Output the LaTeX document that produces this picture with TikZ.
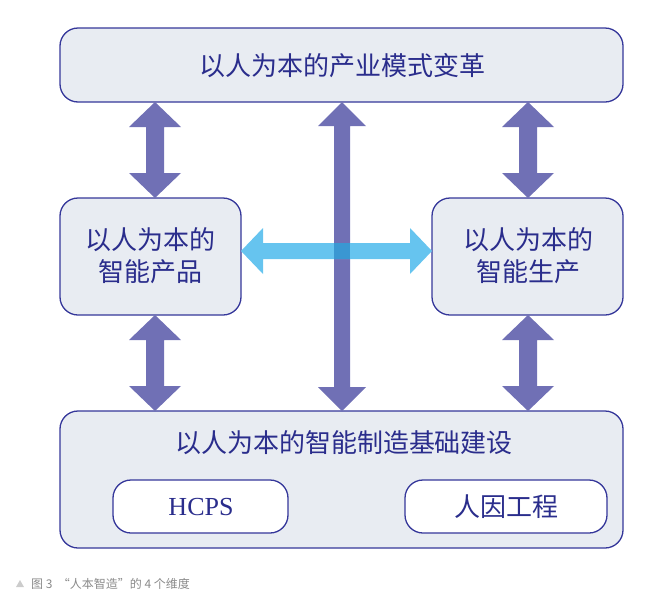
\documentclass[tikz,border=0pt]{standalone}
\usepackage{fontspec}
\setmainfont{Liberation Serif}
\newfontfamily\cjk{Noto Sans CJK SC}
\usetikzlibrary{calc}
\definecolor{edge}{HTML}{35379A}
\definecolor{boxfill}{HTML}{E8ECF2}
\definecolor{txt}{HTML}{2A2D8C}
\definecolor{purp}{HTML}{7070B5}
\definecolor{sky}{HTML}{66C4EF}
\definecolor{skydark}{HTML}{3A97D2}
\definecolor{capgray}{HTML}{8A8A8A}
\tikzset{
  panel/.style={draw=edge, line width=1.3pt, fill=boxfill, rounded corners=18pt},
  inner/.style={draw=edge, line width=1.3pt, fill=white, rounded corners=18pt},
  label/.style={text=txt, font=\cjk\fontsize{26}{31}\selectfont, align=center, inner sep=0pt},
}
\begin{document}
\begin{tikzpicture}[x=1pt,y=-1pt]
\useasboundingbox (0,0) rectangle (654,595);
% boxes
\draw[panel] (60,28) rectangle (623,102);
\draw[panel] (60,198) rectangle (241,315);
\draw[panel] (432,198) rectangle (623,315);
\draw[panel] (60,411) rectangle (623,548);
\draw[inner] (113,480) rectangle (288,533);
\draw[inner] (405,480) rectangle (607,533);
% coordinates
\coordinate (LT) at (155,102); \coordinate (LB) at (155,198);
\coordinate (RT) at (528,102); \coordinate (RB) at (528,198);
\coordinate (LT2) at (155,315); \coordinate (LB2) at (155,411);
\coordinate (RT2) at (528,315); \coordinate (RB2) at (528,411);
% double vertical arrows
\foreach \a/\b in {LT/LB,RT/RB,LT2/LB2,RT2/RB2}{
  \fill[purp] (\a) -- ($(\a)+(26,25)$) -- ($(\a)+(9,25)$) -- ($(\b)+(9,-25)$) -- ($(\b)+(26,-25)$) -- (\b)
   -- ($(\b)+(-26,-25)$) -- ($(\b)+(-9,-25)$) -- ($(\a)+(-9,25)$) -- ($(\a)+(-26,25)$) -- cycle;
}
% central long arrow
\coordinate (CT) at (342,102); \coordinate (CB) at (342,411);
\fill[purp] (CT) -- ($(CT)+(24,24)$) -- ($(CT)+(8,24)$) -- ($(CB)+(8,-24)$) -- ($(CB)+(24,-24)$) -- (CB)
   -- ($(CB)+(-24,-24)$) -- ($(CB)+(-8,-24)$) -- ($(CT)+(-8,24)$) -- ($(CT)+(-24,24)$) -- cycle;
% horizontal arrow
\coordinate (HL) at (241,251); \coordinate (HR) at (432,251);
\fill[sky] (HL) -- ($(HL)+(22,-23)$) -- ($(HL)+(22,-8)$) -- ($(HR)+(-22,-8)$) -- ($(HR)+(-22,-23)$) -- (HR)
   -- ($(HR)+(-22,23)$) -- ($(HR)+(-22,8)$) -- ($(HL)+(22,8)$) -- ($(HL)+(22,23)$) -- cycle;
\fill[skydark] (334,243) rectangle (350,259);
% texts
\node[label] (top) at (342,66) {以人为本的产业模式变革};
\node[label] (lp) at (150,256) {以人为本的\\[1pt]智能产品};
\node[label] (rp) at (528,256) {以人为本的\\[1pt]智能生产};
\node[label] (bot) at (344,443) {以人为本的智能制造基础建设};
\node[text=txt, font=\fontsize{26}{30}\selectfont, inner sep=0pt] (hcps) at (201,507) {HCPS};
\node[label] (hf) at (506,507) {人因工程};
% caption
\fill[gray!40] (16,587) -- (20,580) -- (24,587) -- cycle;
\node[anchor=west, text=capgray, font=\cjk\fontsize{12}{14}\selectfont, inner sep=0pt] (cap) at (31,584) {图 3 \ “人本智造”的 4 个维度};
\end{tikzpicture}
\end{document}
